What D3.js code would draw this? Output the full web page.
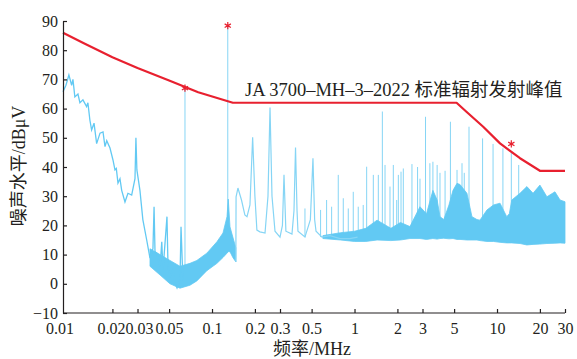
<!DOCTYPE html>
<html>
<head>
<meta charset="utf-8">
<script src="https://cdn.jsdelivr.net/npm/d3@7"></script>
<style>
  body { margin: 0; background: #fff; }
  svg { display: block; }
  .axis text { font-family: "Liberation Serif", "Noto Sans CJK SC", serif; font-size: 16px; fill: #231f20; }
  .axis path, .axis line { stroke: #231f20; stroke-width: 1.2; }
</style>
</head>
<body>
<svg id="chart" width="577" height="359"></svg>
<script>
// tick labels
var xTicks = [0.01, 0.02, 0.03, 0.05, 0.1, 0.2, 0.3, 0.5, 1, 2, 3, 5, 10, 20, 30];
var yTicks = [-10, 0, 10, 20, 30, 40, 50, 60, 70, 80, 90];

// red limit line (MHz, dBuV)
var limitFreq  = [0.009, 0.0125, 0.02, 0.03, 0.05, 0.08, 0.14, 5.2, 6.1, 8.0, 10.5, 14.5, 20, 30];
var limitLevel = [86, 82.5, 77.6, 73.9, 69.6, 65.6, 62, 62, 58.9, 53.8, 48.1, 43, 38.7, 38.7];

// peak markers
var peakFreq  = [0.0646, 0.129, 12.6];
var peakLevel = [67, 88.4, 47.9];

// low frequency trace
var traceFreq = [0.009, 0.00944, 0.0099, 0.01035, 0.01057, 0.0109, 0.01146, 0.01183, 0.01242, 0.01318,
  0.01346, 0.0139, 0.01429, 0.01486, 0.0155, 0.01637, 0.01718, 0.01774, 0.01824, 0.01923,
  0.02018, 0.02084, 0.0213, 0.02188, 0.0226, 0.02323, 0.0245, 0.0257, 0.0273, 0.0288,
  0.02924, 0.0297, 0.0312, 0.0327, 0.0348, 0.0367, 0.0385, 0.0392, 0.0398, 0.0409,
  0.0432, 0.0444, 0.0453, 0.0483, 0.0491, 0.0507, 0.0532, 0.055, 0.0568, 0.0596,
  0.0606, 0.0625];
var traceLevel = [65.8, 68, 71.5, 68, 70, 64, 65, 62, 63, 60.7,
  62, 56, 52.7, 55, 48, 51.6, 52, 47, 49, 46.5,
  42.4, 39, 39.5, 34.5, 36, 32, 28, 31, 30.4, 36,
  50, 39, 32, 22, 15, 8.8, 12, 26.4, 11, 10.5,
  5.8, 14.4, 4.7, 23, 6, 2.4, 5, 0.3, -1.4, 1.3,
  19.5, 1];

// dense band 0.04-0.15 MHz
var bandAFreq = [0.0367, 0.0432, 0.0507, 0.0596, 0.070, 0.0783, 0.092, 0.1083, 0.1194, 0.1274, 0.130, 0.1337, 0.140, 0.147];
var bandALow  = [6, 3, 0, -1.5, -0.5, 1, 4.5, 7, 9, 10.5, 11, 11, 9, 7.5];
var bandAHigh = [12, 10, 8, 6, 7, 8, 10.5, 14.4, 17.4, 23, 29, 19.5, 16, 12.3];

// mid frequency trace
var midFreq = [0.147, 0.1475, 0.152, 0.161, 0.170, 0.176, 0.1846, 0.1928, 0.200, 0.2065,
  0.2168, 0.2355, 0.247, 0.2553, 0.2636, 0.2767, 0.300, 0.312, 0.320, 0.330,
  0.364, 0.376, 0.3855, 0.395, 0.401, 0.449, 0.49, 0.511, 0.525, 0.537,
  0.591, 0.673, 0.791, 0.929, 1.05];
var midLevel = [7.5, 29.8, 32.8, 28.7, 23.6, 23, 27, 50.2, 30, 18.4,
  17.8, 17.4, 30, 60.4, 30, 18, 16, 20, 37.3, 18,
  17, 25, 46.7, 25, 18, 16, 22, 43, 22, 18,
  16, 16.5, 15.5, 15.5, 16];

// dense band 0.6-30 MHz
var bandBFreq = [0.6, 0.8, 1.0, 1.2, 1.44, 1.8, 2.1, 2.45, 2.88, 3.2,
  3.55, 3.8, 3.98, 4.23, 4.6, 4.91, 5.24, 5.5, 6.15, 6.67,
  7.23, 7.59, 8.5, 9.45, 10.5, 11.7, 12.2, 12.7, 14.5, 16.2,
  17.9, 20, 22.4, 25.5, 27.7, 30];
var bandBLow = [15.5, 15, 14.5, 14.5, 15, 14.8, 15, 15.5, 15.5, 15.2,
  15.5, 15.3, 15.5, 15.6, 15.4, 15.5, 15.2, 15.2, 15, 15,
  15, 14.8, 14.5, 14.5, 14.2, 14, 14, 14, 13.8, 13.3,
  13.5, 13.6, 13.8, 13.9, 14, 13.9];
var bandBHigh = [16.5, 17.5, 18, 19, 21.8, 19, 21, 19.6, 26.4, 24,
  32, 28.7, 23, 22, 27, 32, 34.4, 34, 31, 23,
  22, 21.8, 25.3, 27, 27.6, 23, 24, 28.7, 31, 33.3,
  31, 33.8, 29.8, 31.5, 28.7, 28.1];

// narrow spikes
var spikeFreq = [0.0646, 0.129, 0.449, 0.578, 0.637, 0.691, 0.769, 0.834, 0.904, 0.980,
  1.062, 1.151, 1.217, 1.355, 1.469, 1.568, 1.637, 1.774, 1.872, 1.977,
  2.03, 2.12, 2.20, 2.53, 2.77, 2.88, 3.15, 3.38, 3.55, 3.80,
  3.98, 4.32, 4.71, 5.24, 5.68, 5.89, 6.36, 7.92, 9.38, 11.0,
  12.6, 14.2];
var spikeLevel = [67, 88.4, 25.8, 25.3, 28.7, 26.4, 37.3, 29.3, 25.8, 31.5,
  26.4, 27, 40.1, 37.3, 37.3, 59, 40.7, 33.3, 40.7, 28.7,
  37.3, 38.4, 39.5, 41, 40, 36, 57.2, 41.3, 41.8, 40.7,
  38, 38.7, 55.5, 39, 41.3, 38, 53.8, 49.8, 47.9, 46.4,
  45.2, 40.7];

var svg = d3.select("#chart");

var x = d3.scaleLog().domain([0.009, 30]).range([63, 565]);
var y = d3.scaleLinear().domain([-10, 90]).range([313, 21]);

var blue = "#62c9f3";
var lightBlue = "#86d5f5";

function zip(f, v) {
    return f.map(function(d, i) { return [d, v[i]]; });
}

var line = d3.line()
    .x(function(d) { return x(d[0]); })
    .y(function(d) { return y(d[1]); });

var area = d3.area()
    .x(function(d) { return x(d.f); })
    .y0(function(d) { return y(d.lo); })
    .y1(function(d) { return y(d.hi); });

function band(f, lo, hi) {
    return f.map(function(d, i) { return { f: d, lo: lo[i], hi: hi[i] }; });
}

// spikes
svg.append("g")
    .selectAll("line")
    .data(zip(spikeFreq, spikeLevel))
    .enter().append("line")
    .attr("x1", function(d) { return x(d[0]); })
    .attr("x2", function(d) { return x(d[0]); })
    .attr("y1", function(d) { return d[0] < 0.1 ? y(1) : (d[0] < 0.2 ? y(14) : y(16)); })
    .attr("y2", function(d) { return y(d[1]); })
    .attr("stroke", lightBlue)
    .attr("stroke-width", 1);

// bands
svg.append("path")
    .datum(band(bandAFreq, bandALow, bandAHigh))
    .attr("d", area)
    .attr("fill", blue)
    .attr("stroke", blue)
    .attr("stroke-width", 0.8);

svg.append("path")
    .datum(band(bandBFreq, bandBLow, bandBHigh))
    .attr("d", area)
    .attr("fill", blue)
    .attr("stroke", blue)
    .attr("stroke-width", 0.8);

// traces
svg.append("path")
    .datum(zip(traceFreq, traceLevel))
    .attr("d", line)
    .attr("fill", "none")
    .attr("stroke", blue)
    .attr("stroke-width", 1.3);

svg.append("path")
    .datum(zip(midFreq, midLevel))
    .attr("d", line)
    .attr("fill", "none")
    .attr("stroke", lightBlue)
    .attr("stroke-width", 1.2);

// limit line
svg.append("path")
    .datum(zip(limitFreq, limitLevel))
    .attr("d", line)
    .attr("fill", "none")
    .attr("stroke", "#e8202f")
    .attr("stroke-width", 2.2)
    .attr("stroke-linejoin", "round");

// peak markers
svg.append("g")
    .selectAll("path")
    .data(zip(peakFreq, peakLevel))
    .enter().append("path")
    .attr("transform", function(d) { return "translate(" + x(d[0]) + "," + y(d[1]) + ")"; })
    .attr("d", d3.symbol(d3.symbolAsterisk, 36))
    .attr("fill", "none")
    .attr("stroke", "#e8202f")
    .attr("stroke-width", 1.2);

// axes
var xAxis = svg.append("g")
    .attr("class", "axis")
    .attr("transform", "translate(0,313)")
    .call(d3.axisBottom(x).tickValues(xTicks).tickFormat(function(d) { return String(d); })
        .tickSize(-4).tickSizeOuter(0).tickPadding(10));
xAxis.select(".domain").attr("d", "M63,0H565");
xAxis.selectAll(".tick").filter(function(d) { return d === 0.01; })
    .call(function(t) {
        t.select("line").remove();
        t.select("text").attr("dx", -10);
    });
xAxis.selectAll(".tick").filter(function(d) { return d === 0.02; })
    .select("text").attr("dx", -1.5);
xAxis.selectAll(".tick").filter(function(d) { return d === 0.03; })
    .select("text").attr("dx", 1.5);

svg.append("g")
    .attr("class", "axis")
    .attr("transform", "translate(63,0)")
    .call(d3.axisLeft(y).tickValues(yTicks).tickFormat(function(d) { return d < 0 ? "\u2212" + (-d) : d; })
        .tickSize(-4).tickSizeOuter(0).tickPadding(5));

// titles
var font = "'Liberation Serif', 'Noto Sans CJK SC', serif";
svg.append("text")
    .attr("x", 312).attr("y", 355)
    .attr("text-anchor", "middle")
    .style("font-family", font).style("font-size", "18px").style("fill", "#231f20")
    .text("频率/MHz");

svg.append("text")
    .attr("transform", "translate(25,166) rotate(-90)")
    .attr("text-anchor", "middle")
    .style("font-family", font).style("font-size", "18px").style("fill", "#231f20")
    .text("噪声水平/dBμV");

svg.append("text")
    .attr("x", 245).attr("y", 96)
    .style("font-family", font).style("font-size", "18.5px").style("fill", "#231f20")
    .text("JA 3700\u2013MH\u20133\u20132022 标准辐射发射峰值");
</script>
</body>
</html>
